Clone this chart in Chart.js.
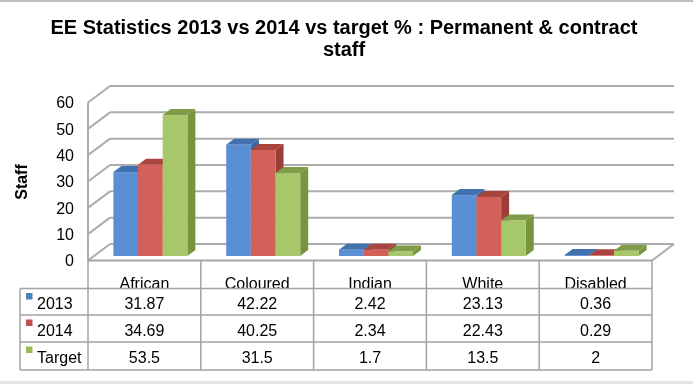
<!DOCTYPE html>
<html>
<head>
<meta charset="utf-8">
<script src="https://cdn.jsdelivr.net/npm/chart.js@4.4.0/dist/chart.umd.min.js"></script>
<style>
html,body{margin:0;padding:0;background:#fff;}
#wrap{width:693px;height:384px;position:relative;}
canvas{display:block;}
</style>
</head>
<body>
<div id="wrap"><canvas id="c" width="693" height="384"></canvas></div>
<script>
const categories = ['African', 'Coloured', 'Indian', 'White', 'Disabled'];
const s2013 = [31.87, 42.22, 2.42, 23.13, 0.36];
const s2014 = [34.69, 40.25, 2.34, 22.43, 0.29];
const sTarget = [53.5, 31.5, 1.7, 13.5, 2];
const seriesNames = ['2013', '2014', 'Target'];
const yTicks = [0, 10, 20, 30, 40, 50, 60];
const titleLines = ['EE Statistics 2013 vs 2014 vs target % : Permanent & contract', 'staff'];
const yTitle = 'Staff';

const faces = [
  {front: '#5a8fd3', top: '#4271b0', side: '#3d679f', key: '#4f81bd'},
  {front: '#d3615a', top: '#a9443f', side: '#9b3d39', key: '#c0504d'},
  {front: '#a7c76b', top: '#7f9c48', side: '#78943f', key: '#9bbb59'}
];

const FONT = '"Liberation Sans", Arial, sans-serif';
const DX = 22, DY = -16.5;      // wall depth
const OX = 6, OY = -4.5;        // bar front offset
const BDX = 8, BDY = -6;        // bar depth

function line(ctx, x0, y0, x1, y1) {
  ctx.beginPath(); ctx.moveTo(x0, y0); ctx.lineTo(x1, y1); ctx.stroke();
}

function box(ctx, x0, x1, yTop, yBase, f) {
  ctx.fillStyle = f.side;
  ctx.beginPath();
  ctx.moveTo(x1, yTop); ctx.lineTo(x1 + BDX, yTop + BDY);
  ctx.lineTo(x1 + BDX, yBase + BDY); ctx.lineTo(x1, yBase); ctx.closePath(); ctx.fill();
  ctx.fillStyle = f.top;
  ctx.beginPath();
  ctx.moveTo(x0, yTop); ctx.lineTo(x0 + BDX, yTop + BDY);
  ctx.lineTo(x1 + BDX, yTop + BDY); ctx.lineTo(x1, yTop); ctx.closePath(); ctx.fill();
  ctx.fillStyle = f.front;
  ctx.fillRect(x0, yTop, x1 - x0, yBase - yTop);
}

const threeD = {
  id: 'threeD',
  beforeDatasetsDraw(chart) {
    const ctx = chart.ctx;
    const a = chart.chartArea;
    const ys = chart.scales.y;
    ctx.save();
    // frame borders
    ctx.fillStyle = '#bdbdbd'; ctx.fillRect(0, 0, 693, 2);
    ctx.fillStyle = '#e4e4e4'; ctx.fillRect(0, 381, 693, 3);
    // title
    ctx.fillStyle = '#000';
    ctx.font = 'bold 20px ' + FONT;
    ctx.textAlign = 'center'; ctx.textBaseline = 'alphabetic';
    ctx.fillText(titleLines[0], 344, 34);
    ctx.fillText(titleLines[1], 344, 56);
    // y title
    ctx.save();
    ctx.translate(23, 182); ctx.rotate(-Math.PI / 2);
    ctx.font = 'bold 16px ' + FONT;
    ctx.textBaseline = 'middle';
    ctx.fillText(yTitle, 0, 0);
    ctx.restore();
    // walls
    ctx.strokeStyle = '#acacac'; ctx.lineWidth = 2;
    yTicks.forEach(v => {
      const y = ys.getPixelForValue(v);
      line(ctx, a.left + DX, y + DY, a.right + DX, y + DY);
      line(ctx, a.left, y, a.left + DX, y + DY);
    });
    line(ctx, a.left, ys.getPixelForValue(yTicks[yTicks.length - 1]), a.left, a.bottom);
    line(ctx, a.right, a.bottom, a.right + DX, a.bottom + DY);
    // y tick labels
    ctx.font = '16px ' + FONT;
    ctx.fillStyle = '#000';
    ctx.textAlign = 'right'; ctx.textBaseline = 'middle';
    yTicks.forEach(v => ctx.fillText(String(v), 74, ys.getPixelForValue(v) + 1.5));
    ctx.restore();
  },
  afterDatasetsDraw(chart) {
    const ctx = chart.ctx;
    const a = chart.chartArea;
    const xs = chart.scales.x;
    ctx.save();
    const n = categories.length;
    for (let i = 0; i < n; i++) {
      for (let d = 0; d < chart.data.datasets.length; d++) {
        const el = chart.getDatasetMeta(d).data[i];
        const x0 = el.x - el.width / 2 + OX, x1 = el.x + el.width / 2 + OX;
        box(ctx, x0, x1, el.y + OY, el.base + OY, faces[d]);
      }
    }
    // data table
    const cw = (a.right - a.left) / n;
    const rowTops = [288.5, 315, 342, 370];
    const tLeft = 20;
    ctx.fillStyle = '#000';
    ctx.font = '16px ' + FONT;
    ctx.textAlign = 'center'; ctx.textBaseline = 'alphabetic';
    ctx.save();
    ctx.beginPath(); ctx.rect(0, a.bottom, 693, rowTops[0] - a.bottom); ctx.clip();
    categories.forEach((c, i) => ctx.fillText(c, xs.getPixelForValue(i), 289));
    ctx.restore();
    const all = [s2013, s2014, sTarget];
    const baselines = [309, 336, 363];
    all.forEach((arr, r) => {
      arr.forEach((v, i) => ctx.fillText(String(v), xs.getPixelForValue(i), baselines[r]));
      ctx.textAlign = 'left';
      ctx.fillText(seriesNames[r], 37, baselines[r]);
      ctx.textAlign = 'center';
      ctx.fillStyle = faces[r].key;
      ctx.fillRect(26, rowTops[r] + 4.5, 6.5, 6.5);
      ctx.fillStyle = '#000';
    });
    ctx.strokeStyle = '#a3a3a3'; ctx.lineWidth = 1.5;
    rowTops.forEach(y => line(ctx, tLeft, y, a.right, y));
    line(ctx, tLeft, rowTops[0], tLeft, rowTops[3]);
    for (let i = 0; i <= n; i++) {
      const x = a.left + i * cw;
      line(ctx, x, a.bottom, x, rowTops[3]);
    }
    ctx.strokeStyle = '#a6a6a6'; ctx.lineWidth = 2;
    line(ctx, a.left, a.bottom, a.right, a.bottom);
    ctx.restore();
  }
};

new Chart(document.getElementById('c'), {
  type: 'bar',
  data: {
    labels: categories,
    datasets: [
      {label: seriesNames[0], data: s2013},
      {label: seriesNames[1], data: s2014},
      {label: seriesNames[2], data: sTarget}
    ].map(d => Object.assign(d, {backgroundColor: 'rgba(0,0,0,0)', borderWidth: 0,
      categoryPercentage: 0.656, barPercentage: 1}))
  },
  options: {
    responsive: false,
    animation: false,
    devicePixelRatio: 1,
    layout: {padding: {left: 88, right: 41, top: 102.5, bottom: 123.5}},
    plugins: {legend: {display: false}, title: {display: false}, tooltip: {enabled: false}},
    scales: {
      x: {display: false},
      y: {display: false, min: 0, max: 60}
    }
  },
  plugins: [threeD]
});
</script>
</body>
</html>
